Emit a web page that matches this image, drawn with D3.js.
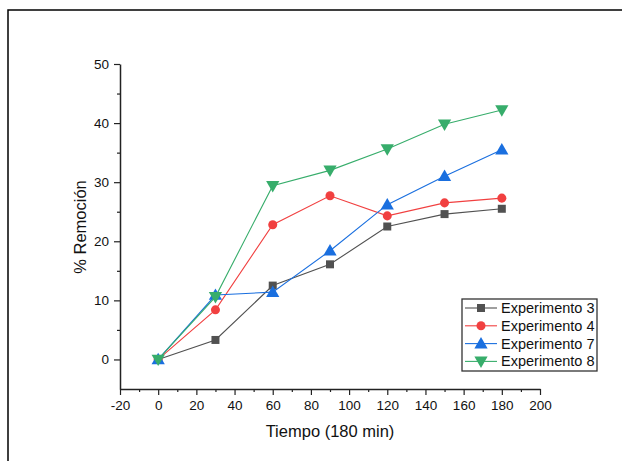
<!DOCTYPE html>
<html><head><meta charset="utf-8">
<script src="https://cdn.jsdelivr.net/npm/d3@7"></script>
<style>body{margin:0;background:#fff;}svg{display:block;}</style>
</head><body>
<svg id="chart" width="622" height="461"></svg>
<script>
const times = [0, 30, 60, 90, 120, 150, 180];
const exp3 = [0, 3.3, 12.5, 16.1, 22.5, 24.6, 25.5];
const exp4 = [0, 8.4, 22.8, 27.7, 24.3, 26.5, 27.3];
const exp7 = [0, 10.9, 11.4, 18.4, 26.2, 31.0, 35.5];
const exp8 = [0, 10.6, 29.4, 32.0, 35.6, 39.8, 42.2];
const seriesNames = ["Experimento 3", "Experimento 4", "Experimento 7", "Experimento 8"];
const xTicks = [-20, 0, 20, 40, 60, 80, 100, 120, 140, 160, 180, 200];
const yTicks = [0, 10, 20, 30, 40, 50];

const colors = ["#515151", "#F14040", "#1A6FDF", "#37AD6B"];
const symbols = [d3.symbolSquare, d3.symbolCircle, d3.symbolTriangle, d3.symbolTriangle];
const symSizes = [64, 64, 76, 76];
const rotations = [0, 0, 0, 180];
const seriesVals = [exp3, exp4, exp7, exp8];

const svg = d3.select("#chart");
const font = "'Liberation Sans', Arial, sans-serif";

// figure frame
svg.append("rect").attr("x", 8).attr("y", 10).attr("width", 700).attr("height", 600)
  .attr("fill", "none").attr("stroke", "#000").attr("stroke-width", 1.5);

const x = d3.scaleLinear().domain([-20, 200]).range([120, 540]);
const y = d3.scaleLinear().domain([-5, 50]).range([389, 64]);
const fmt = v => String(v);

// axes
const xAxisG = svg.append("g").attr("transform", `translate(0,${y(-5)})`);
xAxisG.call(d3.axisBottom(x).tickValues(d3.range(-10, 200, 20)).tickSize(3).tickFormat(""));
xAxisG.call(g => g.select(".domain").remove());
const xMajor = svg.append("g").attr("transform", `translate(0,${y(-5)})`)
  .call(d3.axisBottom(x).tickValues(xTicks).tickSize(6).tickSizeOuter(0).tickPadding(5).tickFormat(fmt));
xMajor.select(".domain").attr("stroke-width", 1.5);

const yMinor = svg.append("g").attr("transform", `translate(${x(-20)},0)`)
  .call(d3.axisLeft(y).tickValues(d3.range(-5, 50, 10).filter(v => v > -5)).tickSize(3).tickFormat(""));
yMinor.select(".domain").remove();
const yMajor = svg.append("g").attr("transform", `translate(${x(-20)},0)`)
  .call(d3.axisLeft(y).tickValues(yTicks).tickSize(6).tickSizeOuter(0).tickPadding(5).tickFormat(fmt));
yMajor.select(".domain").attr("stroke-width", 1.5);

svg.selectAll(".tick line").attr("stroke", "#222").attr("stroke-width", 1.2);
svg.selectAll(".domain").attr("stroke", "#222");
svg.selectAll(".tick text").attr("font-family", font).attr("font-size", "13.5px").attr("fill", "#111");

// axis titles
svg.append("text").attr("x", 330).attr("y", 437).attr("text-anchor", "middle")
  .attr("font-family", font).attr("font-size", "16.5px").attr("fill", "#111").text("Tiempo (180 min)");
svg.append("text").attr("transform", "translate(86,227) rotate(-90)").attr("text-anchor", "middle")
  .attr("font-family", font).attr("font-size", "16.5px").attr("fill", "#111").text("% Remoción");

// series
const line = d3.line().x(d => x(d[0])).y(d => y(d[1]));
seriesVals.forEach((vals, i) => {
  const pts = times.map((t, j) => [t, vals[j]]);
  svg.append("path").datum(pts).attr("d", line).attr("fill", "none")
    .attr("stroke", colors[i]).attr("stroke-width", 1.1);
  const sym = d3.symbol().type(symbols[i]).size(symSizes[i]);
  svg.append("g").selectAll("path").data(pts).join("path")
    .attr("d", sym)
    .attr("transform", d => `translate(${x(d[0])},${y(d[1]) + (i === 2 ? 1 : i === 3 ? -1 : 0)}) rotate(${rotations[i]})`)
    .attr("fill", colors[i]);
});

// legend
const lg = svg.append("g");
lg.append("rect").attr("x", 462).attr("y", 299).attr("width", 135).attr("height", 72)
  .attr("fill", "#fff").attr("stroke", "#333").attr("stroke-width", 1.3);
seriesNames.forEach((name, i) => {
  const cy = 308 + i * 17.8;
  lg.append("line").attr("x1", 465).attr("x2", 497).attr("y1", cy).attr("y2", cy)
    .attr("stroke", colors[i]).attr("stroke-width", 1.1);
  lg.append("path").attr("d", d3.symbol().type(symbols[i]).size(symSizes[i])())
    .attr("transform", `translate(481,${cy + (i === 2 ? 1 : i === 3 ? -1 : 0)}) rotate(${rotations[i]})`)
    .attr("fill", colors[i]);
  lg.append("text").attr("x", 501).attr("y", cy + 5).attr("font-family", font)
    .attr("font-size", "14.5px").attr("fill", "#111").text(name);
});
</script>
</body></html>
